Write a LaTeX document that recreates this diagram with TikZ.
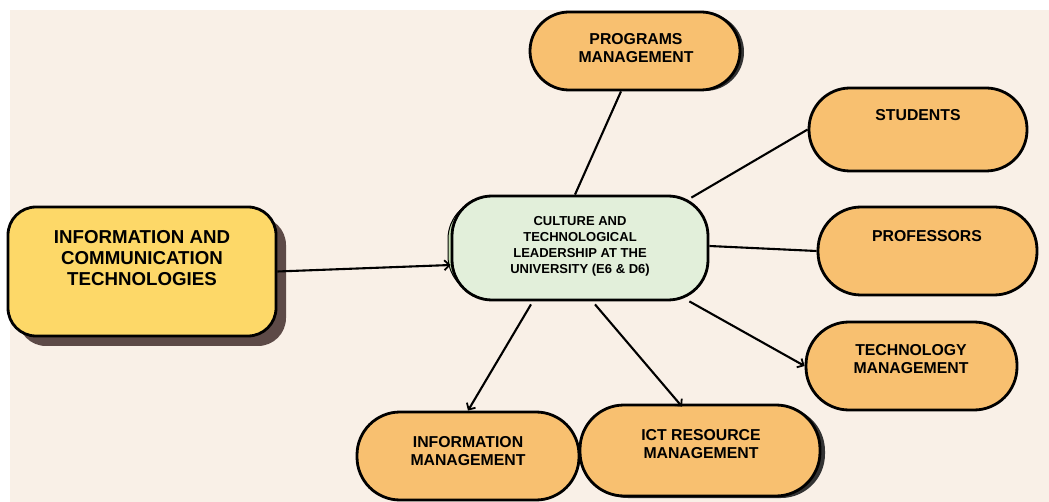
\documentclass[tikz,border=0pt]{standalone}
\usepackage{fontspec}
\setmainfont{Liberation Sans}
\usetikzlibrary{arrows.meta,calc}
\definecolor{bgc}{HTML}{F9F0E7}
\definecolor{orangec}{HTML}{F8C070}
\definecolor{yellowc}{HTML}{FDD868}
\definecolor{greenc}{HTML}{E2EFDA}
\definecolor{greensh}{HTML}{C6E0B4}
\definecolor{shadowc}{HTML}{5D4A47}
\begin{document}
\begin{tikzpicture}[x=1pt,y=-1pt,
  box/.style={draw=black,line width=2.8pt,inner sep=0pt,rounded corners=#1},
  box/.default=40pt,
  lbl/.style={font=\bfseries\fontsize{15.8}{18}\selectfont,align=center,inner sep=0pt},
  conn/.style={draw=black,line width=2.1pt},
  arr/.style={conn,-{Straight Barb[length=5pt,width=10pt,line width=1.8pt]}}]
\useasboundingbox (0,0) rectangle (1049,502);
\fill[white] (0,0) rectangle (1049,502);
\fill[bgc] (10,10) rectangle (1049,502);
% shadows
\fill[shadowc,rounded corners=28pt] (18,217) rectangle (286,346);
\fill[greensh,draw=black,line width=1pt,rounded corners=40pt] (448,199) rectangle (704,296);
\fill[black!80,rounded corners=39pt] (533,13) rectangle (744,91);
\fill[black!80,rounded corners=44pt] (584,407) rectangle (825,498);
% nodes
\node[box=28pt,fill=yellowc,minimum width=268pt,minimum height=129pt] (ict) at (142,271.5) {};
\node[box=40pt,fill=greenc,minimum width=256pt,minimum height=104pt] (ctr) at (580,248) {};
\node[box=39pt,fill=orangec,minimum width=210pt,minimum height=78pt] (prog) at (635,51) {};
\node[box=41pt,fill=orangec,minimum width=218pt,minimum height=83pt] (stu) at (918,129.5) {};
\node[box=43pt,fill=orangec,minimum width=219pt,minimum height=88pt] (prof) at (927.5,251) {};
\node[box=43pt,fill=orangec,minimum width=211pt,minimum height=88pt] (tech) at (911.5,366) {};
\node[box=43pt,fill=orangec,minimum width=222pt,minimum height=88pt] (info) at (468,456) {};
\node[box=44pt,fill=orangec,minimum width=240pt,minimum height=91pt] (res) at (700,450.5) {};
% labels
\node[lbl,font=\bfseries\fontsize{18.7}{21}\selectfont] (ictt) at (142,258) {INFORMATION AND\\COMMUNICATION\\TECHNOLOGIES};
\node[lbl,font=\bfseries\fontsize{13}{16}\selectfont] (ctrt) at (580,246) {CULTURE AND\\TECHNOLOGICAL\\LEADERSHIP AT THE\\UNIVERSITY (E6 \& D6)};
\node[lbl] (progt) at (636,48.5) {PROGRAMS\\MANAGEMENT};
\node[lbl] (stut) at (918,115) {STUDENTS};
\node[lbl] (proft) at (927,236) {PROFESSORS};
\node[lbl] (techt) at (911,359.5) {TECHNOLOGY\\MANAGEMENT};
\node[lbl] (infot) at (468,451) {INFORMATION\\MANAGEMENT};
\node[lbl] (rest) at (701,444) {ICT RESOURCE\\MANAGEMENT};
% connectors
\draw[arr] (ict.east) -- ($(ctr.west)+(0,17)$);
\draw[conn] ($(ctr.north)+(-5,0)$) -- ($(prog.south)+(-14,0)$);
\draw[conn] ($(ctr.north east)+(-18,3)$) -- (stu.west);
\draw[conn] ($(ctr.east)+(0,-2)$) -- (prof.west);
\draw[arr] ($(ctr.south east)+(-20,0)$) -- (tech.west);
\draw[arr] ($(ctr.south)+(-49,3)$) -- (info.north);
\draw[arr] ($(ctr.south)+(15,3)$) -- ($(res.north)+(-18,3)$);
\end{tikzpicture}
\end{document}
